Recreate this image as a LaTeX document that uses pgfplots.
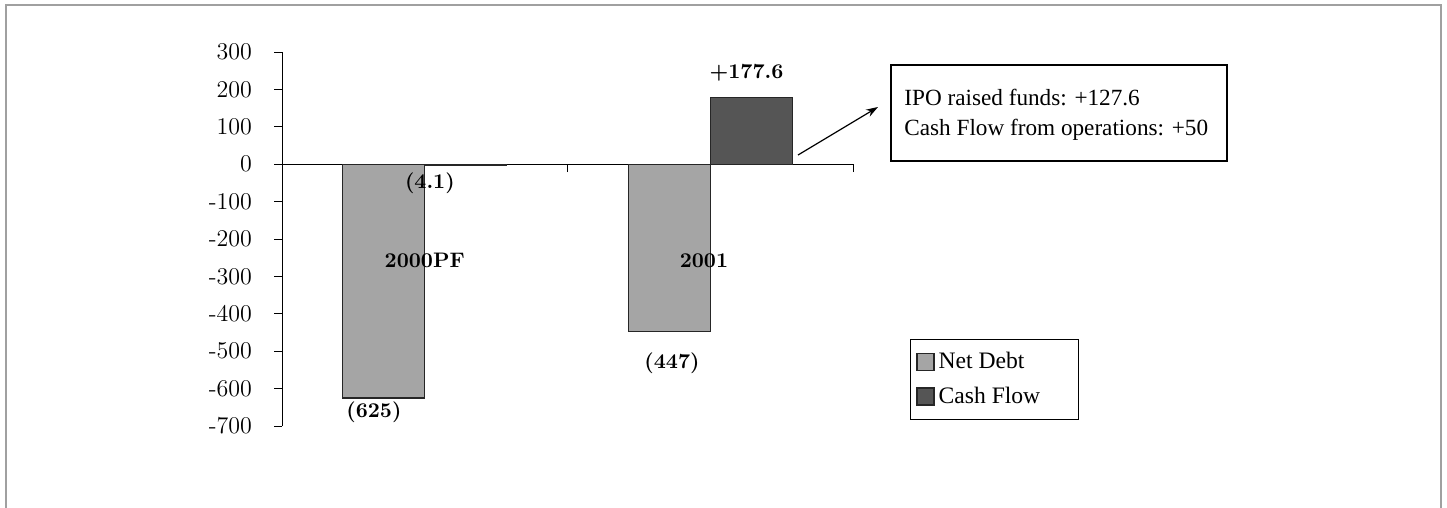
\documentclass[border=0pt]{standalone}
\usepackage{pgfplots}
\pgfplotsset{compat=1.18}
\usepackage{fontspec}
\usetikzlibrary{arrows.meta}
\newfontfamily\timesf{Liberation Serif}
\definecolor{netdebt}{RGB}{165,165,165}
\definecolor{cashflow}{RGB}{85,85,85}
\definecolor{framegray}{RGB}{160,160,160}
\pgfplotsset{sqlegend/.style={legend image code/.code={\draw[##1] (0pt,-4.25pt) rectangle (8.5pt,4.25pt);}}}
\begin{document}
\begin{tikzpicture}
\begin{scope}[x=0.5pt,y=-0.5pt]
\path[use as bounding box] (0,0) rectangle (1447,508);
\draw[framegray, line width=1.3pt] (6,512) -- (6,5) -- (1441,5) -- (1441,512);
\end{scope}
\begin{axis}[
  at={(141pt,-213pt)}, anchor=south west,
  scale only axis, width=285.5pt, height=187pt,
  xmin=0, xmax=2, ymin=-700, ymax=300,
  ybar=0pt, bar width=41pt,
  axis x line=middle, axis y line=left,
  axis line style={-, black, line width=0.5pt},
  xtick={0,1,2}, xticklabels={},
  ytick={-700,-600,-500,-400,-300,-200,-100,0,100,200,300},
  yticklabels={-700,-600,-500,-400,-300,-200,-100,0,100,200,300},
  tick align=outside, major tick length=4pt,
  tick style={black, line width=0.5pt},
  yticklabel style={font=\fontsize{12}{14}\selectfont, xshift=-7.5pt},
  clip=false,
  legend cell align=left,
  legend style={at={(axis description cs:1.0998,0.233)}, anchor=north west,
    draw=black, line width=0.5pt, font=\timesf\fontsize{11.8}{14}\selectfont,
    row sep=3.5pt, inner xsep=3pt, inner ysep=4.5pt},
]
\addplot[fill=netdebt, draw=black!85, line width=0.6pt, sqlegend]
  coordinates {(0.5,-625) (1.5,-447)};
\addplot[fill=cashflow, draw=black!85, line width=0.6pt, sqlegend]
  coordinates {(0.5,-4.1) (1.5,177.6)};
\legend{Net Debt, Cash Flow\rule{14pt}{0pt}}
\node[font=\bfseries\fontsize{10.5}{12}\selectfont] at (axis cs:0.5,-258) {2000PF};
\node[font=\bfseries\fontsize{10.5}{12}\selectfont] at (axis cs:1.478,-258) {2001};
\node[font=\bfseries\fontsize{10.5}{12}\selectfont] at (axis cs:0.518,-50) {(4.1)};
\node[font=\bfseries\fontsize{10.5}{12}\selectfont] at (axis cs:0.322,-662) {(625)};
\node[font=\bfseries\fontsize{10.5}{12}\selectfont] at (axis cs:1.366,-531.6) {(447)};
\node[font=\bfseries\fontsize{10.5}{12}\selectfont] at (axis cs:1.627,244) {+177.6};
\end{axis}
\begin{scope}[x=0.5pt,y=-0.5pt]
\draw[black, line width=0.6pt] (891,65) rectangle (1227,161);
\node[anchor=west, inner sep=0pt, font=\timesf\fontsize{11.6}{14}\selectfont] at (904,97) {IPO raised funds: +127.6};
\node[anchor=west, inner sep=0pt, font=\timesf\fontsize{11.6}{14}\selectfont] at (904,130) {Cash Flow from operations: +50};
\draw[black, line width=0.6pt, -{Stealth[length=6pt,width=4pt]}] (798,155) -- (878,107);
\end{scope}
\end{tikzpicture}
\end{document}
